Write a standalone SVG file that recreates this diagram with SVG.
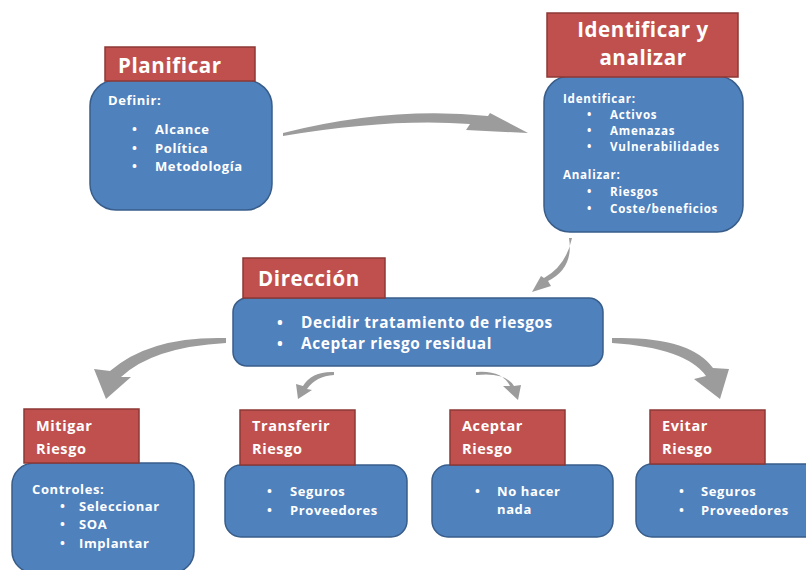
<svg xmlns="http://www.w3.org/2000/svg" width="806" height="570" viewBox="0 0 806 570">
<style>
.hd{fill:#C0504D;stroke:#8C3836;stroke-width:1.5}
.bd{fill:#4F81BD;stroke:#385D8A;stroke-width:1.5}
text{font-family:"Open Sans","Liberation Sans",sans-serif;font-weight:bold;fill:#fff;letter-spacing:0.6px}
.t1{font-size:20.5px}
.t2{font-size:14.5px}
.t3{font-size:13px}
.t4{font-size:15.4px}
.t5{font-size:11.6px;letter-spacing:0.75px}
.ar{fill:#9C9C9C}
</style>
<rect width="806" height="570" fill="#fff"/>
<g id="connectors">
<path class="ar" d="M283,133 Q390,106 488,116 L490,113 L528,133 L466,130 L470,124 Q390,118 283,136 Z"/>
<path class="ar" d="M569,238 Q574,268 548,281 L551,286 L532,292 L541,276 L544,278 Q566,266 572,238 Z"/>
<path class="ar" d="M226,338 Q150,336 110,371 L94,369 L106,399 L131,377 L121,377 Q153,347 226,343 Z"/>
<path class="ar" d="M612,338 Q690,336 713,368 L729,369 L720,399 L694,379 L706,376 Q686,348 612,343 Z"/>
<path class="ar" d="M334,372 Q312,371 303,386 L296,384 L298,399 L312,390 L307,389 Q316,376 334,375 Z"/>
<path class="ar" d="M476,372 Q502,370 510,386 L503,386 L518,400 L521,385 L514,386 Q506,372 476,375 Z"/>
</g>
<g id="planificar">
<rect class="bd" x="90" y="80" width="182" height="130" rx="26"/>
<rect class="hd" x="105" y="47" width="150" height="34"/>
<text class="t1" x="118" y="73">Planificar</text>
<text class="t3" x="108" y="105">Definir:</text>
<text class="t3" x="132" y="134">•</text>
<text class="t3" x="155" y="134">Alcance</text>
<text class="t3" x="132" y="153">•</text>
<text class="t3" x="155" y="153">Política</text>
<text class="t3" x="132" y="171">•</text>
<text class="t3" x="155" y="171">Metodología</text>
</g>
<g id="identificar">
<rect class="bd" x="544" y="76" width="199" height="156" rx="26"/>
<rect class="hd" x="547" y="13" width="191" height="64"/>
<text class="t1" x="643" y="37" text-anchor="middle">Identificar y</text>
<text class="t1" x="643" y="65" text-anchor="middle">analizar</text>
<text class="t5" x="563" y="103">Identificar:</text>
<text class="t5" x="587" y="119">•</text>
<text class="t5" x="610" y="119">Activos</text>
<text class="t5" x="587" y="135">•</text>
<text class="t5" x="610" y="135">Amenazas</text>
<text class="t5" x="587" y="151">•</text>
<text class="t5" x="610" y="151">Vulnerabilidades</text>
<text class="t5" x="563" y="179">Analizar:</text>
<text class="t5" x="587" y="196">•</text>
<text class="t5" x="610" y="196">Riesgos</text>
<text class="t5" x="587" y="213">•</text>
<text class="t5" x="610" y="213">Coste/beneficios</text>
</g>
<g id="direccion">
<rect class="bd" x="233" y="298" width="370" height="68" rx="14"/>
<rect class="hd" x="243" y="258" width="142" height="40"/>
<text class="t1" x="258" y="286">Dirección</text>
<text class="t4" x="277" y="328">•</text>
<text class="t4" x="301" y="328">Decidir tratamiento  de riesgos</text>
<text class="t4" x="277" y="349">•</text>
<text class="t4" x="301" y="349">Aceptar riesgo residual</text>
</g>
<g id="mitigar">
<rect class="bd" x="12" y="463" width="182" height="110" rx="22"/>
<rect class="hd" x="24" y="409" width="115" height="54"/>
<text class="t2" x="36" y="431">Mitigar</text>
<text class="t2" x="36" y="454">Riesgo</text>
<text class="t3" x="32" y="494">Controles:</text>
<text class="t3" x="60" y="511">•</text>
<text class="t3" x="79" y="511">Seleccionar</text>
<text class="t3" x="60" y="529">•</text>
<text class="t3" x="79" y="529">SOA</text>
<text class="t3" x="60" y="548">•</text>
<text class="t3" x="79" y="548">Implantar</text>
</g>
<g id="transferir">
<rect class="bd" x="225" y="465" width="182" height="72" rx="16"/>
<rect class="hd" x="240" y="410" width="115" height="55"/>
<text class="t2" x="252" y="431">Transferir</text>
<text class="t2" x="252" y="454">Riesgo</text>
<text class="t3" x="267" y="496">•</text>
<text class="t3" x="290" y="496">Seguros</text>
<text class="t3" x="267" y="515">•</text>
<text class="t3" x="290" y="515">Proveedores</text>
</g>
<g id="aceptar">
<rect class="bd" x="432" y="465" width="181" height="72" rx="16"/>
<rect class="hd" x="450" y="410" width="115" height="55"/>
<text class="t2" x="462" y="431">Aceptar</text>
<text class="t2" x="462" y="454">Riesgo</text>
<text class="t3" x="475" y="496">•</text>
<text class="t3" x="497" y="496">No hacer</text>
<text class="t3" x="497" y="514">nada</text>
</g>
<g id="evitar">
<rect class="bd" x="636" y="464" width="190" height="73" rx="16"/>
<rect class="hd" x="650" y="410" width="115" height="54"/>
<text class="t2" x="662" y="431">Evitar</text>
<text class="t2" x="662" y="454">Riesgo</text>
<text class="t3" x="679" y="496">•</text>
<text class="t3" x="701" y="496">Seguros</text>
<text class="t3" x="679" y="515">•</text>
<text class="t3" x="701" y="515">Proveedores</text>
</g>
</svg>
